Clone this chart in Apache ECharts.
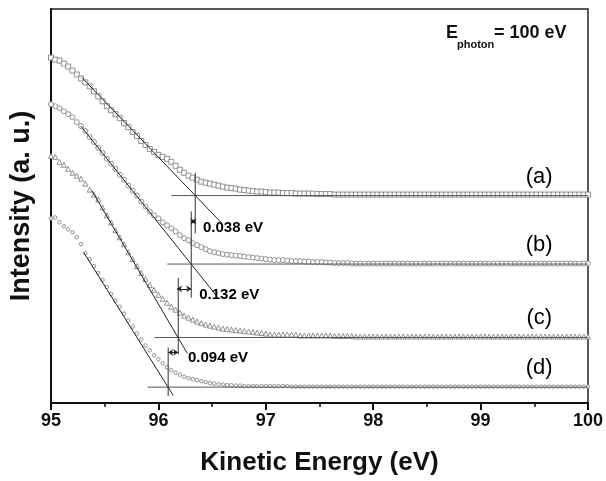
<!DOCTYPE html>
<html>
<head>
<meta charset="utf-8">
<script src="https://cdn.jsdelivr.net/npm/echarts@6/dist/echarts.min.js"></script>
<style>
  html, body { margin: 0; padding: 0; background: #fff; }
  #chart { width: 606px; height: 481px; }
</style>
</head>
<body>
<div id="chart"></div>
<script>
// kinetic energy grid (eV)
const energies = [
  95.00, 95.04, 95.08, 95.12, 95.16, 95.20, 95.24, 95.28, 95.32, 95.36, 95.40, 95.44, 95.48, 95.52, 95.56, 95.60, 95.64, 95.68, 95.72, 95.76, 95.80, 95.84, 95.88, 95.92, 95.96, 96.00,
  96.04, 96.08, 96.12, 96.16, 96.20, 96.24, 96.28, 96.32, 96.36, 96.40, 96.44, 96.48, 96.52, 96.56, 96.60, 96.64, 96.68, 96.72, 96.76, 96.80, 96.84, 96.88, 96.92, 96.96, 97.00,
  97.04, 97.08, 97.12, 97.16, 97.20, 97.24, 97.28, 97.32, 97.36, 97.40, 97.44, 97.48, 97.52, 97.56, 97.60, 97.64, 97.68, 97.72, 97.76, 97.80, 97.84, 97.88, 97.92, 97.96, 98.00,
  98.04, 98.08, 98.12, 98.16, 98.20, 98.24, 98.28, 98.32, 98.36, 98.40, 98.44, 98.48, 98.52, 98.56, 98.60, 98.64, 98.68, 98.72, 98.76, 98.80, 98.84, 98.88, 98.92, 98.96, 99.00,
  99.04, 99.08, 99.12, 99.16, 99.20, 99.24, 99.28, 99.32, 99.36, 99.40, 99.44, 99.48, 99.52, 99.56, 99.60, 99.64, 99.68, 99.72, 99.76, 99.80, 99.84, 99.88, 99.92, 99.96, 100.00
];

// intensity (a. u.), curves offset vertically
const curveA = [
  348, 346, 345, 342, 339, 335, 331, 327, 323, 319, 314, 309, 304, 299, 295, 291, 287, 282, 278, 273, 269, 264, 260, 256, 253, 250,
  248, 246, 243, 239, 235, 232, 229, 227, 225, 223, 222, 221, 220, 219, 218, 217, 216.5, 216, 215, 214.5, 214, 213.5, 213, 213, 212.5,
  212, 212, 212, 211.5, 211.5, 211.5, 211, 211, 211, 211, 211, 210.5, 210.5, 210.5, 210.5, 210, 210, 210, 210, 210, 210, 210, 210, 210, 210,
  210, 210, 210, 210, 210, 210, 210, 210, 210, 210, 210, 210, 210, 210, 210, 210, 210, 210, 210, 210, 210, 210, 210, 210, 210,
  210, 210, 210, 210, 210, 210, 210, 210, 210, 210, 210, 210, 210, 210, 210, 210, 210, 210, 210, 210, 210, 210, 210, 210, 210
];
const curveB = [
  301, 299, 297, 294, 291, 288, 283, 279, 274, 268, 263, 257, 252, 246, 241, 236, 230, 225, 219, 214, 209, 203, 198, 193, 189, 186,
  182, 179, 176, 173, 169, 166, 164, 161, 159, 157, 155, 153, 152, 151, 150, 149.5, 149, 148.5, 148, 147.5, 147, 146.5, 146, 145.5, 145,
  144.5, 144, 144, 144, 143.5, 143, 143, 143, 142.5, 142.5, 142, 142, 142, 141.5, 141.5, 141, 141, 141, 141, 140.5, 140.5, 140.5, 140.5, 140.5, 140.5,
  140.5, 140.5, 140.5, 140.5, 140.5, 140.5, 140.5, 140.5, 140.5, 140.5, 140.5, 140.5, 140.5, 140.5, 140.5, 140.5, 140.5, 140.5, 140.5, 140.5, 140.5, 140.5, 140.5, 140.5, 140.5,
  140.5, 140.5, 140.5, 140.5, 140.5, 140.5, 140.5, 140.5, 140.5, 140.5, 140.5, 140.5, 140.5, 140.5, 140.5, 140.5, 140.5, 140.5, 140.5, 140.5, 140.5, 140.5, 140.5, 140.5, 140.5
];
const curveC = [
  249, 248, 243, 240, 236, 232, 229, 226, 221, 215, 210, 205, 197, 189, 182, 174, 167, 160, 152, 145, 138, 131, 125, 119, 114, 109,
  105, 101, 97, 94, 91, 88, 86, 84, 82, 80.5, 79, 78, 77, 76, 75, 74.5, 74, 73.5, 73, 72.5, 72, 71.5, 71, 70.5, 70,
  69, 69, 69, 69, 69, 69, 69, 68, 68, 68, 68, 68, 68, 68, 68, 67.5, 67.5, 67.5, 67.5, 67.5, 67, 67, 67, 67, 67,
  67, 67, 67, 67, 67, 67, 67, 67, 67, 67, 67, 67, 67, 67, 67, 67, 67, 67, 67, 67, 67, 67, 67, 67, 67,
  67, 67, 67, 67, 67, 67, 67, 67, 67, 67, 67, 67, 67, 67, 67, 67, 67, 67, 67, 67, 67, 67, 67, 67, 67
];
const curveD = [
  186, 187, 182, 178, 175, 172, 167, 160, 151, 145, 138, 131, 124, 117, 110, 103, 97, 90, 83, 77, 70, 64, 58, 53, 48, 44,
  40, 36, 33, 30.5, 28.5, 26.5, 25, 24, 23, 22, 21, 20, 19.5, 19, 18.5, 18, 18, 17.5, 17.5, 17, 17, 17, 17, 17, 17,
  17, 17, 17, 17, 17, 16.5, 16.5, 16.5, 16.5, 16.5, 16.5, 16.5, 16.5, 16.5, 16.5, 16.5, 16.5, 16.5, 16.5, 16.5, 16.5, 16.5, 16.5, 16.5, 16.5,
  16.5, 16.5, 16.5, 16.5, 16.5, 16.5, 16.5, 16.5, 16.5, 16.5, 16.5, 16.5, 16.5, 16.5, 16.5, 16.5, 16.5, 16.5, 16.5, 16.5, 16.5, 16.5, 16.5, 16.5, 16.5,
  16.5, 16.5, 16.5, 16.5, 16.5, 16.5, 16.5, 16.5, 16.5, 16.5, 16.5, 16.5, 16.5, 16.5, 16.5, 16.5, 16.5, 16.5, 16.5, 16.5, 16.5, 16.5, 16.5, 16.5, 16.5
];

// linear fits of the leading edge
const fitA = [[95.287, 328], [96.583, 182]];
const fitB = [[95.278, 279], [96.537, 108.5]];
const fitC = [[95.380, 214], [96.269, 50]];
const fitD = [[95.306, 151.5], [96.139, 7.5]];

// background levels
const baseA = [[96.120, 209], [100, 209]];
const baseB = [[96.083, 140], [100, 140]];
const baseC = [[95.963, 66], [100, 66]];
const baseD = [[95.898, 16], [100, 16]];

// edge positions (fit ∩ background)
const edgeA = [[96.343, 232], [96.343, 171]];
const edgeB = [[96.306, 193], [96.306, 106]];
const edgeC = [[96.185, 126], [96.185, 49]];
const edgeD = [[96.091, 56], [96.091, 7]];

// shifts between edges
const shifts = [
  { text: '0.038 eV', from: [96.306, 183], to: [96.343, 183], label: [96.415, 176] },
  { text: '0.132 eV', from: [96.174, 115], to: [96.306, 115], label: [96.380, 109] },
  { text: '0.094 eV', from: [96.091, 51], to: [96.185, 51], label: [96.275, 45] }
];

const curveNames = ['(a)', '(b)', '(c)', '(d)'];
const curveLabelPos = [[99.546, 228], [99.546, 159], [99.546, 86], [99.546, 35]];

const xTicks = [95, 96, 97, 98, 99, 100];

const chart = echarts.init(document.getElementById('chart'));
const font = 'Liberation Sans, Arial, sans-serif';

const zip = (vals) => energies.map((e, i) => [e, vals[i]]);

const markerSeries = (vals, symbol, size) => ({
  type: 'scatter',
  data: zip(vals),
  symbol: symbol,
  symbolSize: size,
  itemStyle: { color: '#fff', borderColor: '#858585', borderWidth: 0.9, opacity: 1 },
  silent: true,
  z: 2
});

const segment = (pts, color) => ({
  type: 'line',
  data: pts,
  showSymbol: false,
  symbol: 'none',
  lineStyle: { color: color, width: 1 },
  silent: true,
  z: 3
});

const series = [
  markerSeries(curveA, 'rect', 5),
  markerSeries(curveB, 'circle', 5),
  markerSeries(curveC, 'triangle', 5),
  markerSeries(curveD, 'circle', 3.5)
];

[fitA, fitB, fitC, fitD].forEach(f => series.push(segment(f, '#222')));
[baseA, baseB, baseC, baseD].forEach(b => series.push(segment(b, '#555')));
[edgeA, edgeB, edgeC, edgeD].forEach(v => series.push(segment(v, '#333')));

series.push({
  type: 'lines',
  coordinateSystem: 'cartesian2d',
  symbol: ['arrow', 'arrow'],
  symbolSize: 5,
  lineStyle: { color: '#222', width: 1, opacity: 1 },
  data: shifts.map(s => ({ coords: [s.from, s.to] })),
  silent: true,
  z: 4
});

series.push({
  type: 'scatter',
  symbolSize: 0,
  itemStyle: { opacity: 1 },
  data: shifts.map(s => ({ value: s.label, name: s.text })),
  label: {
    show: true,
    position: 'right',
    distance: 0,
    formatter: p => p.name,
    fontFamily: font,
    fontWeight: 'bold',
    fontSize: 15,
    color: '#000'
  },
  silent: true,
  z: 5
});

series.push({
  type: 'scatter',
  symbolSize: 0,
  itemStyle: { opacity: 1 },
  data: curveLabelPos.map((p, i) => ({ value: p, name: curveNames[i] })),
  label: {
    show: true,
    position: 'inside',
    formatter: p => p.name,
    fontFamily: font,
    fontSize: 22,
    color: '#000'
  },
  silent: true,
  z: 5
});

const option = {
  animation: false,
  backgroundColor: '#fff',
  grid: { left: 49, right: 17, top: 9, bottom: 75, show: true, borderColor: '#222', borderWidth: 1.5 },
  xAxis: {
    type: 'value',
    min: 95,
    max: 100,
    interval: 1,
    name: 'Kinetic Energy (eV)',
    nameLocation: 'middle',
    nameGap: 47,
    nameTextStyle: { fontFamily: font, fontWeight: 'bold', fontSize: 26, color: '#111' },
    axisLine: { show: true, lineStyle: { color: '#111', width: 2 } },
    axisTick: { show: true, inside: false, length: 7, lineStyle: { color: '#111', width: 2 } },
    minorTick: { show: true, splitNumber: 2, length: 4, lineStyle: { color: '#111', width: 1.5 } },
    axisLabel: {
      fontFamily: font, fontWeight: 'bold', fontSize: 18, color: '#111', margin: 9,
      formatter: v => (xTicks.indexOf(v) >= 0 ? String(v) : '')
    },
    splitLine: { show: false }
  },
  yAxis: {
    type: 'value',
    min: 0,
    max: 397,
    name: 'Intensity (a. u.)',
    nameLocation: 'middle',
    nameGap: 16,
    nameTextStyle: { fontFamily: font, fontWeight: 'bold', fontSize: 27, color: '#111' },
    axisLine: { show: true, lineStyle: { color: '#111', width: 2 } },
    axisTick: { show: false },
    axisLabel: { show: false },
    splitLine: { show: false }
  },
  graphic: [
    { type: 'text', left: 446, top: 24, style: { text: 'E', font: 'bold 18px ' + font, fill: '#111' } },
    { type: 'text', left: 457, top: 39, style: { text: 'photon', font: 'bold 11px ' + font, fill: '#111' } },
    { type: 'text', left: 494, top: 24, style: { text: '= 100 eV', font: 'bold 18px ' + font, fill: '#111' } }
  ],
  series: series
};

chart.setOption(option);
</script>
</body>
</html>
